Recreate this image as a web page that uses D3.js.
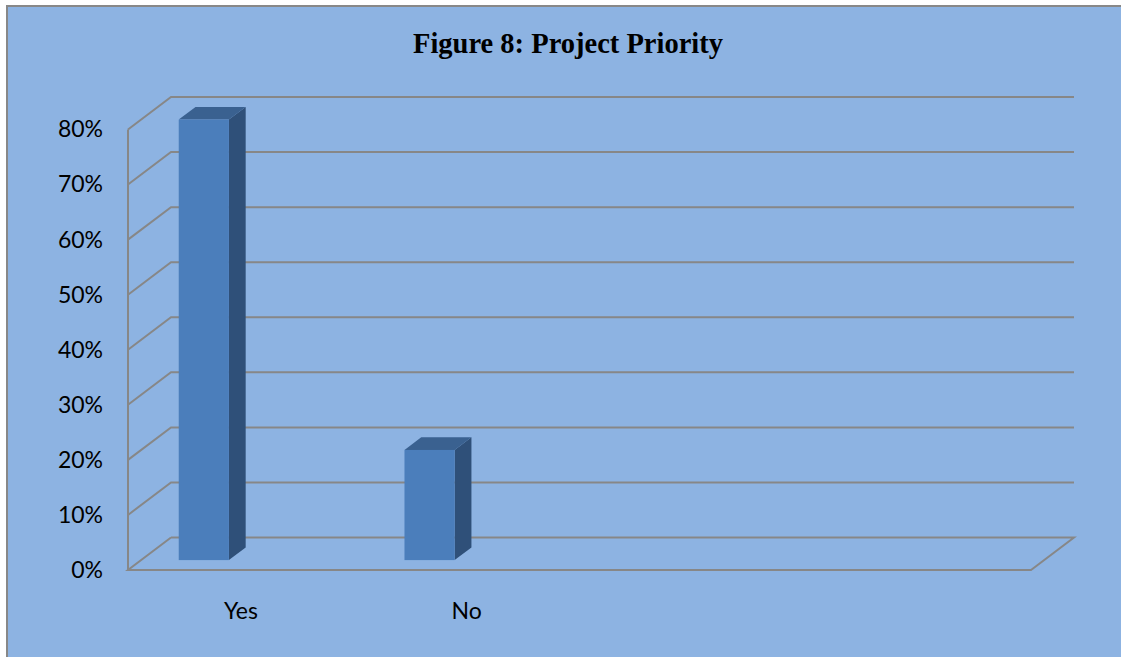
<!DOCTYPE html>
<html>
<head>
<meta charset="utf-8">
<script src="https://cdn.jsdelivr.net/npm/d3@7"></script>
<style>
  html, body { margin: 0; padding: 0; background: #ffffff; }
  svg { display: block; }
</style>
</head>
<body>
<svg id="chart" width="1121" height="657"></svg>
<script>
// ---- data ----
const title = "Figure 8: Project Priority";
const categoryLabels = ["Yes", "No", "", ""];   // four category slots, last two unused
const shares = [80, 20];                          // percent of respondents
const yTicks = [0, 10, 20, 30, 40, 50, 60, 70, 80];

// ---- layout ----
const W = 1121, H = 657;
const X0 = 128, Y0 = 570;          // front-left corner of the floor
const floorW = 903;                // width of the front floor edge
const DX = 43, DY = -32.5;         // depth vector (front -> back wall)
const plotH = 440.5;               // height of 0..80 %
const barT0 = 0.305, barT1 = 0.695; // depth span occupied by the columns

const COLORS = {
  bg: "#8DB3E2",
  grid: "#878787",
  front: "#4B7EBB",
  top: "#3A6190",
  side: "#2F5079",
  text: "#000000"
};

const svg = d3.select("#chart");

// chart area with border
svg.append("rect")
  .attr("x", 7).attr("y", 6)
  .attr("width", W + 20).attr("height", H + 20)
  .attr("fill", COLORS.bg)
  .attr("stroke", "#888888").attr("stroke-width", 2);

// scales
const yH = d3.scaleLinear().domain([0, 80]).range([0, plotH]);
const yFront = d3.scaleLinear().domain([0, 80]).range([Y0, Y0 - plotH]);
const x = d3.scaleBand().domain(d3.range(categoryLabels.length)).range([0, floorW]).paddingInner(0).paddingOuter(0);
// clustered slot layout inside each category (gap width 150%)
const slot = d3.scaleBand().domain([0, 1, 2]).range([0, x.bandwidth()]).paddingInner(0).paddingOuter(0.75);

// oblique projection: horizontal offset, value, depth fraction
function P(xf, v, t) {
  return [X0 + xf + t * DX, Y0 - yH(v) + t * DY];
}
const line = d3.line();

const grid = svg.append("g")
  .attr("fill", "none")
  .attr("stroke", COLORS.grid)
  .attr("stroke-width", 2)
  .attr("stroke-linejoin", "miter");

// gridlines: side wall diagonal + back wall horizontal
yTicks.filter(v => v > 0).forEach(v => {
  grid.append("path").attr("d", line([P(0, v, 0), P(0, v, 1), P(floorW, v, 1)]));
});
// floor outline
grid.append("path").attr("d", line([P(0, 0, 1), P(0, 0, 0), P(floorW, 0, 0), P(floorW, 0, 1), P(0, 0, 1)]));
// front vertical axis edge
grid.append("path").attr("d", line([P(0, 0, 0), P(0, 80, 0)]));

// columns
const bars = svg.append("g");
shares.forEach((v, i) => {
  const x0 = x(i) + slot(0);
  const x1 = x0 + slot.bandwidth();
  const g = bars.append("g");
  // side face
  g.append("path")
    .attr("d", line([P(x1, 0, barT0), P(x1, v, barT0), P(x1, v, barT1), P(x1, 0, barT1)]) + "Z")
    .attr("fill", COLORS.side);
  // top face
  g.append("path")
    .attr("d", line([P(x0, v, barT0), P(x1, v, barT0), P(x1, v, barT1), P(x0, v, barT1)]) + "Z")
    .attr("fill", COLORS.top);
  // front face
  const a = P(x0, v, barT0), b = P(x1, 0, barT0);
  g.append("rect")
    .attr("x", a[0]).attr("y", a[1])
    .attr("width", b[0] - a[0]).attr("height", b[1] - a[1])
    .attr("fill", COLORS.front);
});

const labelFont = "Lato, 'Open Sans', sans-serif";
const labelSize = 23;

// value axis labels
const yAxis = d3.axisLeft(yFront)
  .tickValues(yTicks)
  .tickFormat(d => d + "%")
  .tickSize(0).tickPadding(0);
const ya = svg.append("g").attr("transform", "translate(103,0)").call(yAxis);
ya.select(".domain").remove();
ya.selectAll("text")
  .attr("font-family", labelFont).attr("font-size", labelSize)
  .attr("fill", COLORS.text);

// category labels
const xAxis = d3.axisBottom(x)
  .tickFormat(i => categoryLabels[i])
  .tickSize(0).tickPadding(0);
const xa = svg.append("g").attr("transform", `translate(${X0},603)`).call(xAxis);
xa.select(".domain").remove();
xa.selectAll("text")
  .attr("font-family", labelFont).attr("font-size", labelSize)
  .attr("fill", COLORS.text);

// title
svg.append("text")
  .attr("x", 568).attr("y", 52.5)
  .attr("text-anchor", "middle")
  .attr("font-family", "'Liberation Serif', 'Times New Roman', serif")
  .attr("font-weight", "bold")
  .attr("font-size", 28.5)
  .attr("fill", COLORS.text)
  .text(title);
</script>
</body>
</html>
